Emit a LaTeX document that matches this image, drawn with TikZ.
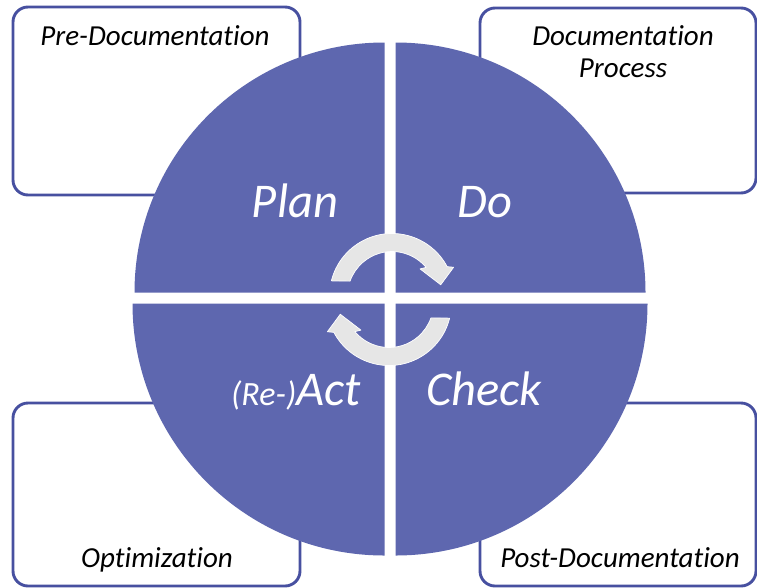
\documentclass[tikz,border=0pt]{standalone}
\usepackage{fontspec}
\usetikzlibrary{calc}
\setmainfont{Carlito}[Ligatures={NoCommon}]
\definecolor{quad}{HTML}{5E67AF}
\definecolor{boxline}{HTML}{4750A0}
\definecolor{arrowfill}{HTML}{E6E6E6}
\begin{document}
\begin{tikzpicture}[x=1pt,y=-1pt,
  framebox/.style={draw=boxline,line width=2.9pt,rounded corners=15pt,fill=white},
  boxlabel/.style={font=\fontsize{29}{32}\selectfont\itshape,text=black,inner sep=0pt,anchor=base,align=center},
  quadfill/.style={fill=quad,draw=none},
  biglabel/.style={font=\fontsize{48.5}{52}\selectfont\itshape,text=white,inner sep=0pt,anchor=base},
  cyclearrow/.style={fill=arrowfill,draw=white,line width=0.7pt,line join=round}]
\useasboundingbox (0,0) rectangle (757,587);
% boxes
\draw[framebox] (13,7) rectangle (300,195);
\draw[framebox] (480,8) rectangle (756,193);
\draw[framebox] (13,403) rectangle (300,586);
\draw[framebox] (480,403) rectangle (756,586);
\node[boxlabel] (pre) at (155,45) {Pre-Documentation};
\node[boxlabel] (docp) at (623,45) {Documentation};
\node[boxlabel] (proc) at (623,77) {Process};
\node[boxlabel] (opt) at (157,567) {Optimization};
\node[boxlabel] (post) at (620,567) {Post-Documentation};
% quadrants
\fill[quadfill] (384.5,292.5) -- ++(-250,0) arc[start angle=180,end angle=270,radius=250] -- cycle;
\fill[quadfill] (395.5,292.5) -- ++(0,-250) arc[start angle=270,end angle=360,radius=250] -- cycle;
\fill[quadfill] (395.5,303.5) -- ++(252,0) arc[start angle=0,end angle=90,radius=252] -- cycle;
\fill[quadfill] (384.5,303.5) -- ++(0,252) arc[start angle=90,end angle=180,radius=252] -- cycle;
\node[biglabel] (plan) at (295,217) {Plan};
\node[biglabel] (do) at (485,217) {Do};
\node[biglabel] (act) at (296,405) {{\fontsize{34}{38}\selectfont(Re-)}Act};
\node[biglabel] (check) at (484,405) {Check};
% cycle arrows
\coordinate (U) at (392,296);
\coordinate (L) at (389,303);
\draw[cyclearrow] ($(U)+(194:62.5)$) arc[start angle=194,end angle=332,radius=62.5]
  -- ($(U)+(335:68)$) -- ($(U)+(347:50)$) -- ($(U)+(316:39)$) -- ($(U)+(320:44.5)$)
  arc[start angle=320,end angle=199.5,radius=44.5] -- cycle;
\draw[cyclearrow] ($(L)+(14:62.5)$) arc[start angle=14,end angle=152,radius=62.5]
  -- ($(L)+(155:68)$) -- ($(L)+(167:50)$) -- ($(L)+(136:39)$) -- ($(L)+(140:44.5)$)
  arc[start angle=140,end angle=19.5,radius=44.5] -- cycle;
\end{tikzpicture}
\end{document}
